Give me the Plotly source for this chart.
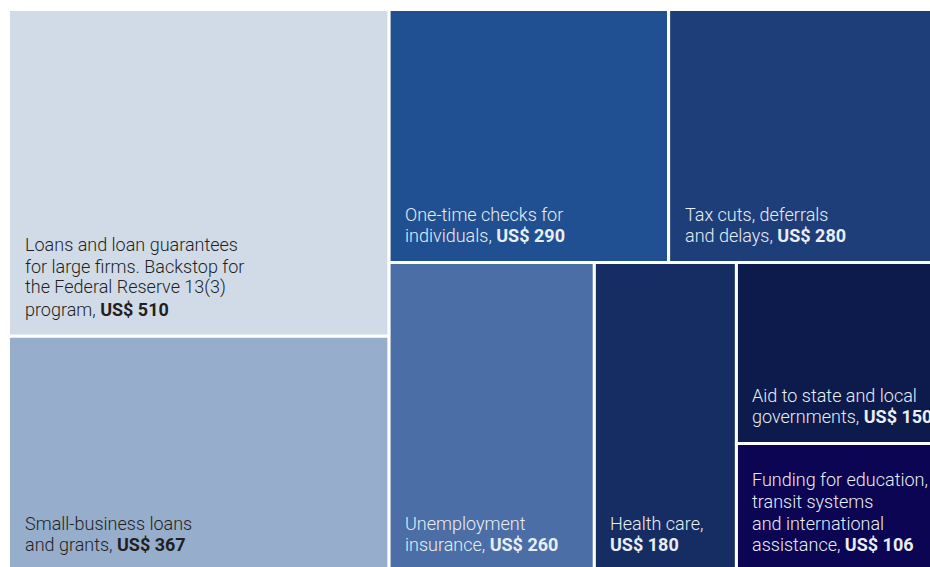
import plotly.graph_objects as go

# Stimulus components, US$ billions
labels = [
    "Loans and loan guarantees<br>for large firms. Backstop for<br>the Federal Reserve 13(3)<br>program, ",
    "Small-business loans<br>and grants, ",
    "One-time checks for<br>individuals, ",
    "Tax cuts, deferrals<br>and delays, ",
    "Unemployment<br>insurance, ",
    "Health care,<br>",
    "Aid to state and local<br>governments, ",
    "Funding for education,<br>transit systems<br>and international<br>assistance, ",
]
values = [510, 367, 290, 280, 260, 180, 150, 106]
colors = ["#d1dbe8", "#96adcc", "#205091", "#1e3e7a", "#4a6ea5", "#162d63", "#0c1b4b", "#0b0553"]
text_colors = ["#231f20", "#231f20", "#e9edf4", "#e9edf4", "#e9edf4", "#e9edf4", "#e9edf4", "#e9edf4"]

# how many cells go into each successive strip of the tiling
strips = [2, 2, 1, 1, 1, 1]

# page is 930 x 567; axes map one unit to one pixel
PAGE_W, PAGE_H = 930, 567
BOX_X, BOX_Y, BOX_W, BOX_H = 8.5, 9.5, 930, 562
GAP = 3
PAD_X = 14.5          # label inset from the cell's left edge
BASE_OFF = 20.5       # last baseline above the cell's bottom edge
LINE_H = 21.7         # baseline-to-baseline spacing
DESCENT = 4.3         # baseline to bottom of a one-line text box
FONT = "Roboto, sans-serif"
FONT_SIZE = 18


def tile(vals, groups, x0, y0, w, h):
    """Strip tiling: each strip runs along the shorter side of what is left."""
    rects, i = [], 0
    for n in groups:
        row = vals[i:i + n]
        s, rest = sum(row), sum(vals[i:])
        if w >= h:
            cw = w * s / rest
            yy = y0
            for v in row:
                ch = h * v / s
                rects.append((x0, yy, cw, ch))
                yy += ch
            x0, w = x0 + cw, w - cw
        else:
            rh = h * s / rest
            xx = x0
            for v in row:
                rw = w * v / s
                rects.append((xx, y0, rw, rh))
                xx += rw
            y0, h = y0 + rh, h - rh
        i += n
    return rects


rects = tile(values, strips, BOX_X, BOX_Y, BOX_W, BOX_H)

fig = go.Figure()
annotations = []
for (x, y, w, h), lab, v, c, tc in zip(rects, labels, values, colors, text_colors):
    fig.add_trace(go.Scatter(
        x=[x, x + w, x + w, x, x], y=[y, y, y + h, y + h, y],
        mode="lines", fill="toself", fillcolor=c,
        line=dict(color="white", width=GAP),
        hoverinfo="skip", showlegend=False,
    ))
    lines = (lab + f"<b>US$ {v}</b>").split("<br>")
    for k, line in enumerate(reversed(lines)):
        baseline = y + h - BASE_OFF - k * LINE_H
        annotations.append(dict(
            x=x + GAP / 2 + PAD_X, y=baseline + DESCENT,
            xref="x", yref="y", xanchor="left", yanchor="bottom",
            text=line, showarrow=False, align="left",
            font=dict(family=FONT, size=FONT_SIZE, color=tc, weight=300),
            borderpad=0, borderwidth=0,
        ))

fig.update_layout(
    width=PAGE_W, height=PAGE_H,
    margin=dict(l=0, r=0, t=0, b=0),
    paper_bgcolor="white", plot_bgcolor="white",
    xaxis=dict(range=[0, PAGE_W], visible=False, fixedrange=True),
    yaxis=dict(range=[PAGE_H, 0], visible=False, fixedrange=True),
    annotations=annotations,
)

fig.write_html("out.html")
